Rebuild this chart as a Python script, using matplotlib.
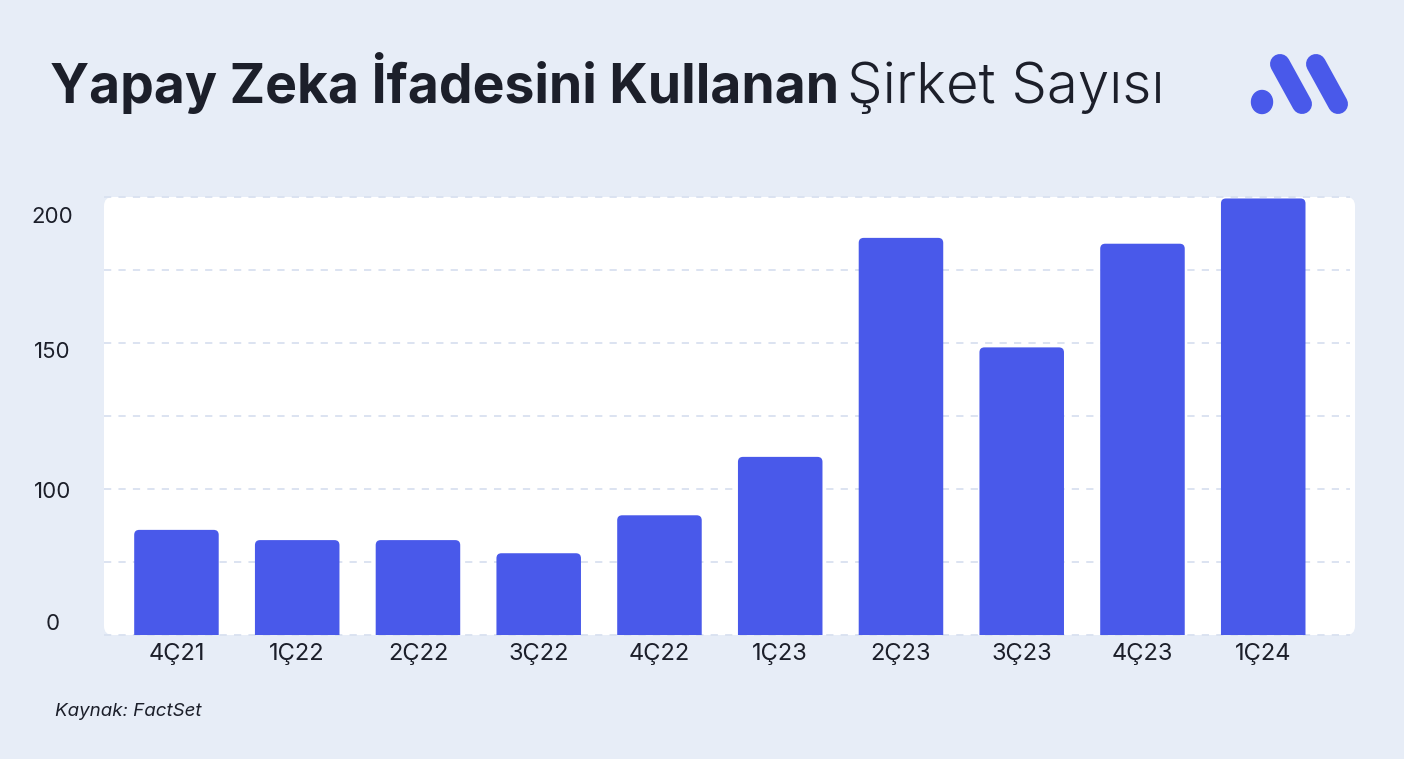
import matplotlib.pyplot as plt
from matplotlib.patches import FancyBboxPatch, Ellipse
from matplotlib.lines import Line2D

# data (companies using "AI" in earnings calls)
quarters = ["4Ç21", "1Ç22", "2Ç22", "3Ç22", "4Ç22", "1Ç23", "2Ç23", "3Ç23", "4Ç23", "1Ç24"]
counts = [86, 82.5, 82.5, 78, 91, 111, 186, 148.5, 184, 199.5]
# y labels as printed on the original (bottom one reads "0")
ytick_pos = [54.5, 99.7, 147.6, 193.8]
ytick_labels = ["0", "100", "150", "200"]
grid_levels = [50, 75, 100, 125, 150, 175, 200]

BG = "#E7EDF7"
BAR = "#4959EA"
TXT = "#1C1F2A"
GRID = "#D9E1F0"

plt.rcParams["font.family"] = ["Inter", "DejaVu Sans"]

fig = plt.figure(figsize=(14.04, 7.59), dpi=100, facecolor=BG)
W, H = 1404, 759

ax = fig.add_axes([104 / W, 1 - 635 / H, (1355 - 104) / W, (635 - 197) / H])
ax.set_xlim(-0.6, 9.76)
ax.set_ylim(50, 200)
ax.patch.set_visible(False)
for s in ax.spines.values():
    s.set_visible(False)

# white rounded plot area
r_ax = 9 / 1251
bg = FancyBboxPatch((0, 0), 1, 1, boxstyle=f"round,pad=0,rounding_size={r_ax}",
                    mutation_aspect=1251 / 438, transform=ax.transAxes,
                    facecolor="white", edgecolor="none", zorder=0, clip_on=False)
ax.add_patch(bg)

# dashed grid
for g in grid_levels:
    ax.axhline(g, xmin=0.0, xmax=0.996, color=GRID, lw=1.3, ls=(0, (4, 4)), zorder=1, clip_on=False)

# bars with rounded tops
px_x = 1251 / (9.76 + 0.6)
px_y = 438 / 150
bw = 0.70
rad = 5 / px_x
for i, v in enumerate(counts):
    p = FancyBboxPatch((i - bw / 2, 0), bw, v, boxstyle=f"round,pad=0,rounding_size={rad}",
                       mutation_aspect=px_x / px_y, facecolor=BAR, edgecolor="none", zorder=2)
    ax.add_patch(p)

ax.set_xticks(range(len(quarters)))
ax.set_xticklabels(quarters, fontsize=17, color=TXT)
ax.set_yticks(ytick_pos)
ax.set_yticklabels(ytick_labels, fontsize=16, color=TXT, ha="center")
ax.tick_params(axis="both", length=0)
ax.tick_params(axis="x", pad=6)
ax.tick_params(axis="y", pad=37)

# title
fig.text(50 / W, 1 - 103 / H, "Yapay Zeka İfadesini Kullanan", fontsize=38.5, fontweight="bold",
         color=TXT, ha="left", va="baseline")
fig.text(847 / W, 1 - 103 / H, "Şirket Sayısı", fontsize=40.5, fontweight=300,
         color=TXT, ha="left", va="baseline")

fig.text(55 / W, 1 - 716 / H, "Kaynak: FactSet", fontsize=13.5, style="italic",
         color=TXT, ha="left", va="baseline")

# logo
lax = fig.add_axes([0, 0, 1, 1])
lax.set_xlim(0, W)
lax.set_ylim(H, 0)
lax.axis("off")
lax.patch.set_visible(False)
lax.add_patch(Ellipse((1262, 102), 21, 23, color=BAR))
lw = 20 / (100 / 72)
lax.add_line(Line2D([1280, 1302], [64, 104], color=BAR, lw=lw, solid_capstyle="round"))
lax.add_line(Line2D([1316, 1338], [64, 104], color=BAR, lw=lw, solid_capstyle="round"))

fig.savefig("out.png", dpi=100, facecolor=BG)
